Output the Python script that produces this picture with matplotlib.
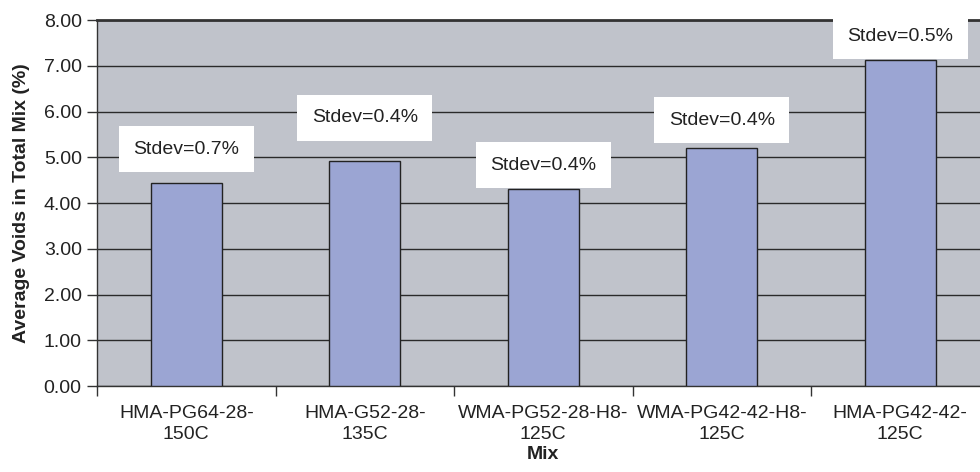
import numpy as np
import matplotlib as mpl
import matplotlib.pyplot as plt

mpl.rcParams['font.family'] = ['Liberation Sans', 'DejaVu Sans']

# Average air voids per mix, with the stdev note for each
mixes = ['HMA-PG64-28-\n150C', 'HMA-G52-28-\n135C', 'WMA-PG52-28-H8-\n125C',
         'WMA-PG42-42-H8-\n125C', 'HMA-PG42-42-\n125C']
voids = [4.44, 4.92, 4.31, 5.20, 7.13]
stdevs = [0.7, 0.4, 0.4, 0.4, 0.5]

# where the note boxes sit (y, in % voids)
note_y = [5.18, 5.86, 4.83, 5.81, 7.65]

fig = plt.figure(figsize=(9.8, 4.72), dpi=100)
ax = fig.add_axes([0.099, 0.1822, 0.9107, 0.7754])
ax.set_facecolor('#c0c3cb')

x = np.arange(len(mixes))
ax.bar(x, voids, width=0.4, color='#9ba5d3', edgecolor='#222222',
       linewidth=1.0, zorder=3)

for xi, s, ny in zip(x, stdevs, note_y):
    ax.text(xi, ny, 'Stdev=%.1f%%' % s, ha='center', va='center', fontsize=14,
            color='#222222', zorder=4,
            bbox=dict(boxstyle='square,pad=0.75', fc='white', ec='none'))

ax.set_xlim(-0.5, len(mixes) - 0.5)
ax.set_ylim(0, 8)
ax.set_yticks(np.arange(0, 9, 1))
ax.set_yticklabels(['%.2f' % v for v in np.arange(0, 9, 1)])
ax.yaxis.grid(True, color='#2a2a2a', linewidth=1.0, zorder=1)
ax.set_axisbelow(True)

ax.set_xticks(x)
ax.set_xticklabels(mixes, fontsize=14, color='#222222', linespacing=1.3)
ax.set_xticks(np.arange(-0.5, len(mixes), 1), minor=True)
ax.tick_params(axis='x', which='major', length=0, pad=14)
ax.tick_params(axis='x', which='minor', length=7, color='#333333', width=1)
ax.tick_params(axis='y', length=7, color='#333333', width=1, labelsize=14,
               labelcolor='#222222', pad=4)

for side in ['left', 'bottom']:
    ax.spines[side].set_color('#333333')
    ax.spines[side].set_linewidth(1.0)
ax.spines['top'].set_color('#333333')
ax.spines['top'].set_linewidth(2.0)
ax.spines['right'].set_visible(False)

ax.set_ylabel('Average Voids in Total Mix (%)', fontsize=14, fontweight='bold',
              color='#222222')
ax.yaxis.set_label_coords(-0.075, 0.5)
ax.set_xlabel('Mix', fontsize=14, fontweight='bold', color='#222222', labelpad=2)

plt.savefig('out.png', dpi=100)
